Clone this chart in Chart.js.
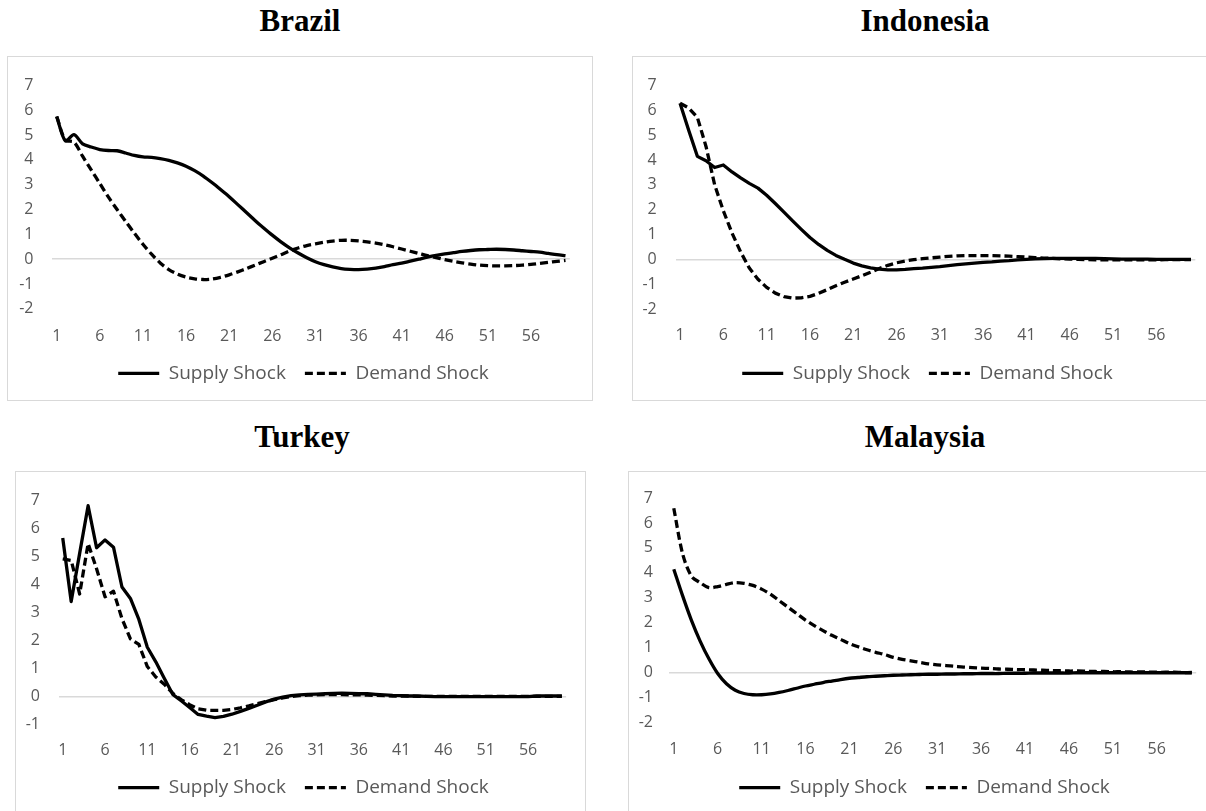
<!DOCTYPE html>
<html>
<head>
<meta charset="utf-8">
<script src="https://cdn.jsdelivr.net/npm/chart.js@4.4.1/dist/chart.umd.min.js"></script>
<style>
  body { margin: 0; width: 1206px; height: 811px; overflow: hidden; background: #fff; position: relative; }
  .title { position: absolute; width: 300px; text-align: center; color: #000;
           font: bold 31px "Liberation Serif", "Times New Roman", serif; line-height: 31px; }
  .box { position: absolute; box-sizing: border-box; border: 1px solid #d9d9d9; }
  canvas { position: absolute; }
</style>
</head>
<body>
<div class="title" style="left:150px; top:5px;">Brazil</div>
<div class="title" style="left:775px; top:5px;">Indonesia</div>
<div class="title" style="left:152px; top:421px;">Turkey</div>
<div class="title" style="left:775px; top:421px;">Malaysia</div>

<script>
// Periods 1..60
const periods = [
  '1','2','3','4','5','6','7','8','9','10','11','12','13','14','15','16','17','18','19','20',
  '21','22','23','24','25','26','27','28','29','30','31','32','33','34','35','36','37','38','39','40',
  '41','42','43','44','45','46','47','48','49','50','51','52','53','54','55','56','57','58','59','60'
];
const xTickLabels = ['1','6','11','16','21','26','31','36','41','46','51','56'];
const seriesNames = ['Supply Shock', 'Demand Shock'];

// Brazil
const brazilSupply = [
  5.75, 4.77, 5.02, 4.65, 4.52, 4.42, 4.38, 4.37, 4.28, 4.18,
  4.12, 4.10, 4.05, 3.98, 3.88, 3.75, 3.57, 3.35, 3.09, 2.81,
  2.52, 2.20, 1.88, 1.56, 1.26, 0.97, 0.70, 0.46, 0.25, 0.06,
  -0.10, -0.22, -0.31, -0.38, -0.41, -0.42, -0.40, -0.36, -0.30, -0.22,
  -0.16, -0.08, 0.00, 0.08, 0.15, 0.21, 0.26, 0.31, 0.35, 0.38,
  0.39, 0.40, 0.39, 0.37, 0.34, 0.31, 0.28, 0.23, 0.18, 0.14
];
const brazilDemand = [
  5.75, 4.80, 4.72, 4.15, 3.60, 3.05, 2.50, 2.00, 1.52, 1.05,
  0.60, 0.20, -0.15, -0.42, -0.60, -0.72, -0.79, -0.82, -0.80, -0.73,
  -0.63, -0.51, -0.38, -0.24, -0.10, 0.04, 0.18, 0.33, 0.45, 0.55,
  0.62, 0.68, 0.73, 0.76, 0.76, 0.74, 0.70, 0.65, 0.58, 0.50,
  0.41, 0.32, 0.23, 0.14, 0.06, -0.02, -0.09, -0.15, -0.20, -0.24,
  -0.26, -0.27, -0.27, -0.26, -0.24, -0.21, -0.17, -0.13, -0.09, -0.05
];

// Indonesia
const indonesiaSupply = [
  6.29, 5.20, 4.15, 3.97, 3.70, 3.80, 3.52, 3.28, 3.06, 2.87,
  2.58, 2.25, 1.90, 1.55, 1.21, 0.88, 0.60, 0.36, 0.16, 0.00,
  -0.15, -0.26, -0.34, -0.39, -0.42, -0.42, -0.40, -0.37, -0.35, -0.32,
  -0.29, -0.25, -0.21, -0.18, -0.15, -0.12, -0.10, -0.07, -0.05, -0.02,
  0.00, 0.02, 0.03, 0.04, 0.04, 0.04, 0.04, 0.04, 0.04, 0.03,
  0.02, 0.01, 0.01, 0.01, 0.01, 0.00, 0.00, 0.00, 0.00, 0.00
];
const indonesiaDemand = [
  6.29, 6.10, 5.72, 4.55, 3.00, 1.96, 1.06, 0.30, -0.35, -0.80,
  -1.13, -1.36, -1.50, -1.56, -1.55, -1.49, -1.37, -1.22, -1.06, -0.92,
  -0.79, -0.66, -0.52, -0.37, -0.24, -0.14, -0.07, -0.01, 0.03, 0.06,
  0.09, 0.12, 0.14, 0.15, 0.15, 0.15, 0.15, 0.14, 0.13, 0.11,
  0.09, 0.07, 0.05, 0.04, 0.02, 0.01, 0.00, -0.01, -0.02, -0.02,
  -0.02, -0.02, -0.02, -0.02, -0.02, -0.02, -0.01, -0.01, -0.01, -0.01
];

// Turkey
const turkeySupply = [
  5.65, 3.38, 5.10, 6.80, 5.30, 5.58, 5.32, 3.90, 3.49, 2.74,
  1.75, 1.23, 0.64, 0.07, -0.16, -0.40, -0.65, -0.71, -0.76, -0.72,
  -0.64, -0.54, -0.43, -0.32, -0.20, -0.10, -0.03, 0.02, 0.05, 0.07,
  0.08, 0.09, 0.10, 0.11, 0.10, 0.09, 0.09, 0.07, 0.05, 0.03,
  0.02, 0.01, 0.01, 0.00, -0.01, -0.01, -0.01, -0.01, -0.01, -0.01,
  -0.01, -0.01, -0.01, -0.01, -0.01, -0.01, 0.01, 0.01, 0.01, 0.01
];
const turkeyDemand = [
  4.90, 4.85, 3.65, 5.45, 4.55, 3.55, 3.75, 2.77, 2.05, 1.85,
  1.06, 0.69, 0.43, 0.11, -0.12, -0.30, -0.45, -0.50, -0.50, -0.50,
  -0.47, -0.41, -0.34, -0.26, -0.19, -0.12, -0.06, -0.01, 0.02, 0.04,
  0.05, 0.06, 0.06, 0.06, 0.05, 0.05, 0.04, 0.03, 0.02, 0.01,
  0.01, 0.01, 0.00, 0.00, 0.00, 0.00, 0.00, 0.00, 0.00, 0.00,
  0.00, 0.00, 0.00, 0.00, 0.00, 0.00, 0.00, 0.00, 0.00, 0.00
];

// Malaysia
const malaysiaSupply = [
  4.15, 3.09, 2.11, 1.27, 0.56, -0.03, -0.44, -0.70, -0.83, -0.88,
  -0.88, -0.85, -0.79, -0.71, -0.62, -0.53, -0.46, -0.39, -0.33, -0.27,
  -0.22, -0.19, -0.16, -0.14, -0.12, -0.10, -0.09, -0.08, -0.07, -0.06,
  -0.06, -0.05, -0.05, -0.04, -0.04, -0.03, -0.03, -0.03, -0.02, -0.02,
  -0.02, -0.01, -0.01, -0.01, -0.01, -0.01, 0.00, 0.00, 0.00, 0.00,
  0.00, 0.00, 0.00, 0.00, 0.00, 0.00, 0.00, 0.00, 0.00, 0.00
];
const malaysiaDemand = [
  6.59, 4.77, 3.87, 3.61, 3.41, 3.45, 3.54, 3.61, 3.58, 3.50,
  3.35, 3.15, 2.89, 2.63, 2.37, 2.11, 1.89, 1.69, 1.50, 1.34,
  1.17, 1.04, 0.92, 0.82, 0.73, 0.62, 0.54, 0.48, 0.42, 0.36,
  0.32, 0.29, 0.26, 0.23, 0.21, 0.19, 0.17, 0.15, 0.14, 0.13,
  0.12, 0.11, 0.10, 0.09, 0.08, 0.07, 0.07, 0.06, 0.05, 0.05,
  0.04, 0.04, 0.03, 0.03, 0.03, 0.02, 0.02, 0.02, 0.01, 0.01
];

const textGray = '#595959';
const tickFont = { family: 'Open Sans', size: 16 };
const legendFont = { family: 'Open Sans', size: 19 };
const legendGap = 19;
const lineW = 3.3;

// page geometry of each panel (box border, plot area, label rows)
const panels = [
  { supply: brazilSupply, demand: brazilDemand, yMin: -2, yMax: 7, tension: 0.3,
    box: [7, 56, 592, 400], plotX: [52.4, 569.8], plotY: [75.5, 308.8],
    xLabelY: 335, legendY: 373.3, legendX: 303.3, yLabelRight: 33.5 },
  { supply: indonesiaSupply, demand: indonesiaDemand, yMin: -2, yMax: 7, tension: 0,
    box: [632, 56, 1212, 400], plotX: [675.7, 1195.3], plotY: [76.7, 309],
    xLabelY: 334.3, legendY: 373.3, legendX: 927.7, yLabelRight: 656.7 },
  { supply: turkeySupply, demand: turkeyDemand, yMin: -1, yMax: 7, tension: 0,
    box: [15, 471, 585, 900], plotX: [58.5, 566.1], plotY: [489.3, 724.3],
    xLabelY: 749.3, legendY: 787.7, legendX: 303.5, yLabelRight: 40 },
  { supply: malaysiaSupply, demand: malaysiaDemand, yMin: -2, yMax: 7, tension: 0.3,
    box: [628, 471, 1212, 900], plotX: [669.4, 1196.2], plotY: [490, 722.7],
    xLabelY: 748.7, legendY: 787.7, legendX: 924.7, yLabelRight: 653 }
];

// legend entries drawn as short solid / dashed lines
const legendItems = (chart) => chart.data.datasets.map((ds, i) => ({
  text: ds.label,
  datasetIndex: i,
  hidden: false,
  fillStyle: '#000',
  strokeStyle: '#000',
  lineWidth: lineW,
  lineDash: ds.borderDash || [],
  lineCap: 'butt',
  pointStyle: 'line',
  fontColor: textGray
}));

const makePanel = (p) => {
  const [bl, bt, br, bb] = p.box;

  const box = document.createElement('div');
  box.className = 'box';
  box.style.left = bl + 'px';
  box.style.top = bt + 'px';
  box.style.width = (br - bl + 1) + 'px';
  box.style.height = (bb - bt + 1) + 'px';
  document.body.appendChild(box);

  // canvas starts just inside the border; its width centres the legend
  const cl = bl + 1, ct = bt + 1;
  const W = Math.round(2 * (p.legendX - cl));
  const H = Math.min(bb, 811) - ct;
  const canvas = document.createElement('canvas');
  canvas.width = W;
  canvas.height = H;
  canvas.style.left = cl + 'px';
  canvas.style.top = ct + 'px';
  document.body.appendChild(canvas);

  // work out sizes so the plot area lands where the reference has it
  const a = p.plotX[0] - cl;
  const r = p.plotX[1] - cl;
  const top = p.plotY[0] - ct;
  const b = p.plotY[1] - ct;
  const itemH = legendFont.size;
  const legendH = itemH + legendGap + 10;
  const xHeight = (p.legendY - ct) - b - itemH / 2 - legendGap;
  const padBottom = H - b - xHeight - legendH;
  const xPad = (p.xLabelY - ct) - b - tickFont.size * 1.2 / 2 + 1;
  const yPad = p.plotX[0] - p.yLabelRight;

  new Chart(canvas, {
    type: 'line',
    data: {
      labels: periods,
      datasets: [
        { label: seriesNames[0], data: p.supply, borderColor: '#000', borderWidth: lineW,
          pointRadius: 0, pointHoverRadius: 0, fill: false, tension: p.tension,
          borderJoinStyle: 'round' },
        { label: seriesNames[1], data: p.demand, borderColor: '#000', borderWidth: lineW,
          borderDash: [8, 4], pointRadius: 0, pointHoverRadius: 0, fill: false, tension: p.tension,
          borderJoinStyle: 'round' }
      ]
    },
    options: {
      responsive: false,
      animation: false,
      events: [],
      layout: { padding: { left: 0, right: 0, top: top, bottom: padBottom } },
      scales: {
        x: {
          offset: true,
          grid: { display: false, drawTicks: false },
          border: { display: false },
          ticks: {
            autoSkip: false, maxRotation: 0, minRotation: 0,
            padding: xPad, color: textGray, font: tickFont,
            callback: function (value) {
              const lab = this.getLabelForValue(value);
              return xTickLabels.includes(lab) ? lab : '';
            }
          },
          afterFit: (s) => { s.height = xHeight; }
        },
        y: {
          min: p.yMin,
          max: p.yMax,
          grid: {
            drawTicks: false,
            lineWidth: 1.5,
            color: (ctx) => (ctx.tick && ctx.tick.value === 0 ? '#d9d9d9' : 'rgba(0,0,0,0)')
          },
          border: { display: false },
          ticks: { stepSize: 1, padding: yPad, color: textGray, font: tickFont },
          afterFit: (s) => { s.width = a; }
        },
        // empty right-hand axis only takes up the space right of the plot
        yRight: {
          position: 'right',
          grid: { display: false, drawTicks: false },
          border: { display: false },
          ticks: { display: false },
          afterFit: (s) => { s.width = W - r; }
        }
      },
      plugins: {
        tooltip: { enabled: false },
        legend: {
          position: 'bottom',
          labels: {
            usePointStyle: true,
            pointStyleWidth: 41,
            padding: legendGap,
            color: textGray,
            font: legendFont,
            generateLabels: legendItems
          }
        }
      }
    }
  });
};

panels.forEach(makePanel);
</script>
</body>
</html>
